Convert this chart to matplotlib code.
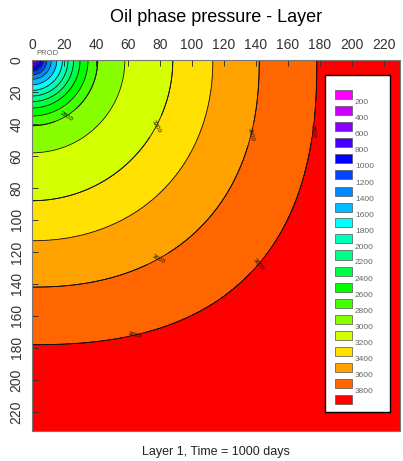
import numpy as np
import matplotlib
matplotlib.use("Agg")
from matplotlib import pyplot as plt
from matplotlib.patches import Rectangle

plt.rcParams['font.family'] = ['Liberation Sans', 'DejaVu Sans']

# pressure contour levels and the radius (grid units from the producer) where each sits
levels = [200, 400, 600, 800, 1000, 1200, 1400, 1600, 1800, 2000,
          2200, 2400, 2600, 2800, 3000, 3200, 3400, 3600, 3800]
radii = [1.5, 2.5, 3.7, 5.2, 7.0, 9.3, 12.0, 15.5, 19.0, 22.5,
         26.0, 30.0, 35.0, 41.0, 58.0, 88.0, 113.0, 142.0, 178.0]

# one colour per band: below 200, each 200-wide band, above 3800
band_colors = ['#ff00ff', '#cc00ff', '#8800ff', '#4400ff', '#0000ff',
               '#0044ff', '#0088ff', '#00bbff', '#00ffff', '#00ffbb',
               '#00ff88', '#00ff44', '#00ff00', '#44ff00', '#88ff00',
               '#d4ff00', '#ffe000', '#ffa200', '#ff6600', '#ff0000']

xticks = list(range(0, 221, 20))
yticks = list(range(0, 221, 20))

# labelled contours: (level, x, y)
label_pos = [(2800, 22, 36), (3200, 78, 42), (3600, 136, 46), (3800, 175, 44),
             (3600, 78, 123), (3800, 142, 128), (3800, 64, 171)]

# pressure field around the producer at the origin
x = np.linspace(0, 230, 700)
y = np.linspace(0, 232, 700)
X, Y = np.meshgrid(x, y)
r = np.hypot(X, Y)
p = 2 + 0.5 * np.clip((r - 90) / 100, 0, 1)
d = (X ** p + Y ** p) ** (1 / p)
P = np.interp(d, [0] + radii + [260], [0] + levels + [4200])

fig = plt.figure(figsize=(4.03, 4.61), dpi=100)
ax = fig.add_axes([32 / 403, 1 - 431 / 461, 368 / 403, 371 / 461])

ax.contourf(X, Y, P, levels=[-1] + levels + [5000], colors=band_colors)
cs = ax.contour(X, Y, P, levels=levels, colors='#111111', linewidths=0.6)
lab_levels = sorted(set(l for l, _, _ in label_pos))
cs2 = ax.contour(X, Y, P, levels=lab_levels, colors='#111111', linewidths=0.6)
ax.clabel(cs2, fontsize=4.5, fmt='%d', inline=True,
          manual=[(lx, ly) for _, lx, ly in label_pos])

ax.set_xlim(0, 230)
ax.set_ylim(232, 0)
ax.xaxis.tick_top()
ax.set_xticks(xticks)
ax.set_yticks(yticks)
ax.set_yticklabels([str(t) for t in yticks], rotation=90, va='center')
ax.tick_params(direction='in', length=4, width=0.7, labelsize=10,
               colors='#333333', pad=6)
for s in ax.spines.values():
    s.set_color('#777777')
    s.set_linewidth(0.8)

ax.text(3, -4, 'PROD', fontsize=5.5, color='#666666', ha='left', va='center',
        clip_on=False)

# colour key drawn in its own box
lax = fig.add_axes([325 / 403, 1 - 412 / 461, 65 / 403, 337 / 461])
lax.set_xlim(0, 65)
lax.set_ylim(337, 0)
lax.set_xticks([])
lax.set_yticks([])
lax.set_facecolor('white')
for s in lax.spines.values():
    s.set_color('black')
    s.set_linewidth(1)
for i, c in enumerate(band_colors):
    lax.add_patch(Rectangle((10, 20 + i * 16 - 4.5), 17, 9, facecolor=c,
                            edgecolor='#555555', linewidth=0.5))
for i, lv in enumerate(levels):
    lax.text(30, 28 + i * 16, str(lv), fontsize=6, color='#666666',
             ha='left', va='center')

fig.text(216 / 403, 1 - 17 / 461, 'Oil phase pressure - Layer', fontsize=13,
         ha='center', va='center')
fig.text(216 / 403, 1 - 452 / 461, 'Layer 1, Time = 1000 days', fontsize=9,
         ha='center', va='center', color='#222222')

plt.savefig("out.png", dpi=100)
